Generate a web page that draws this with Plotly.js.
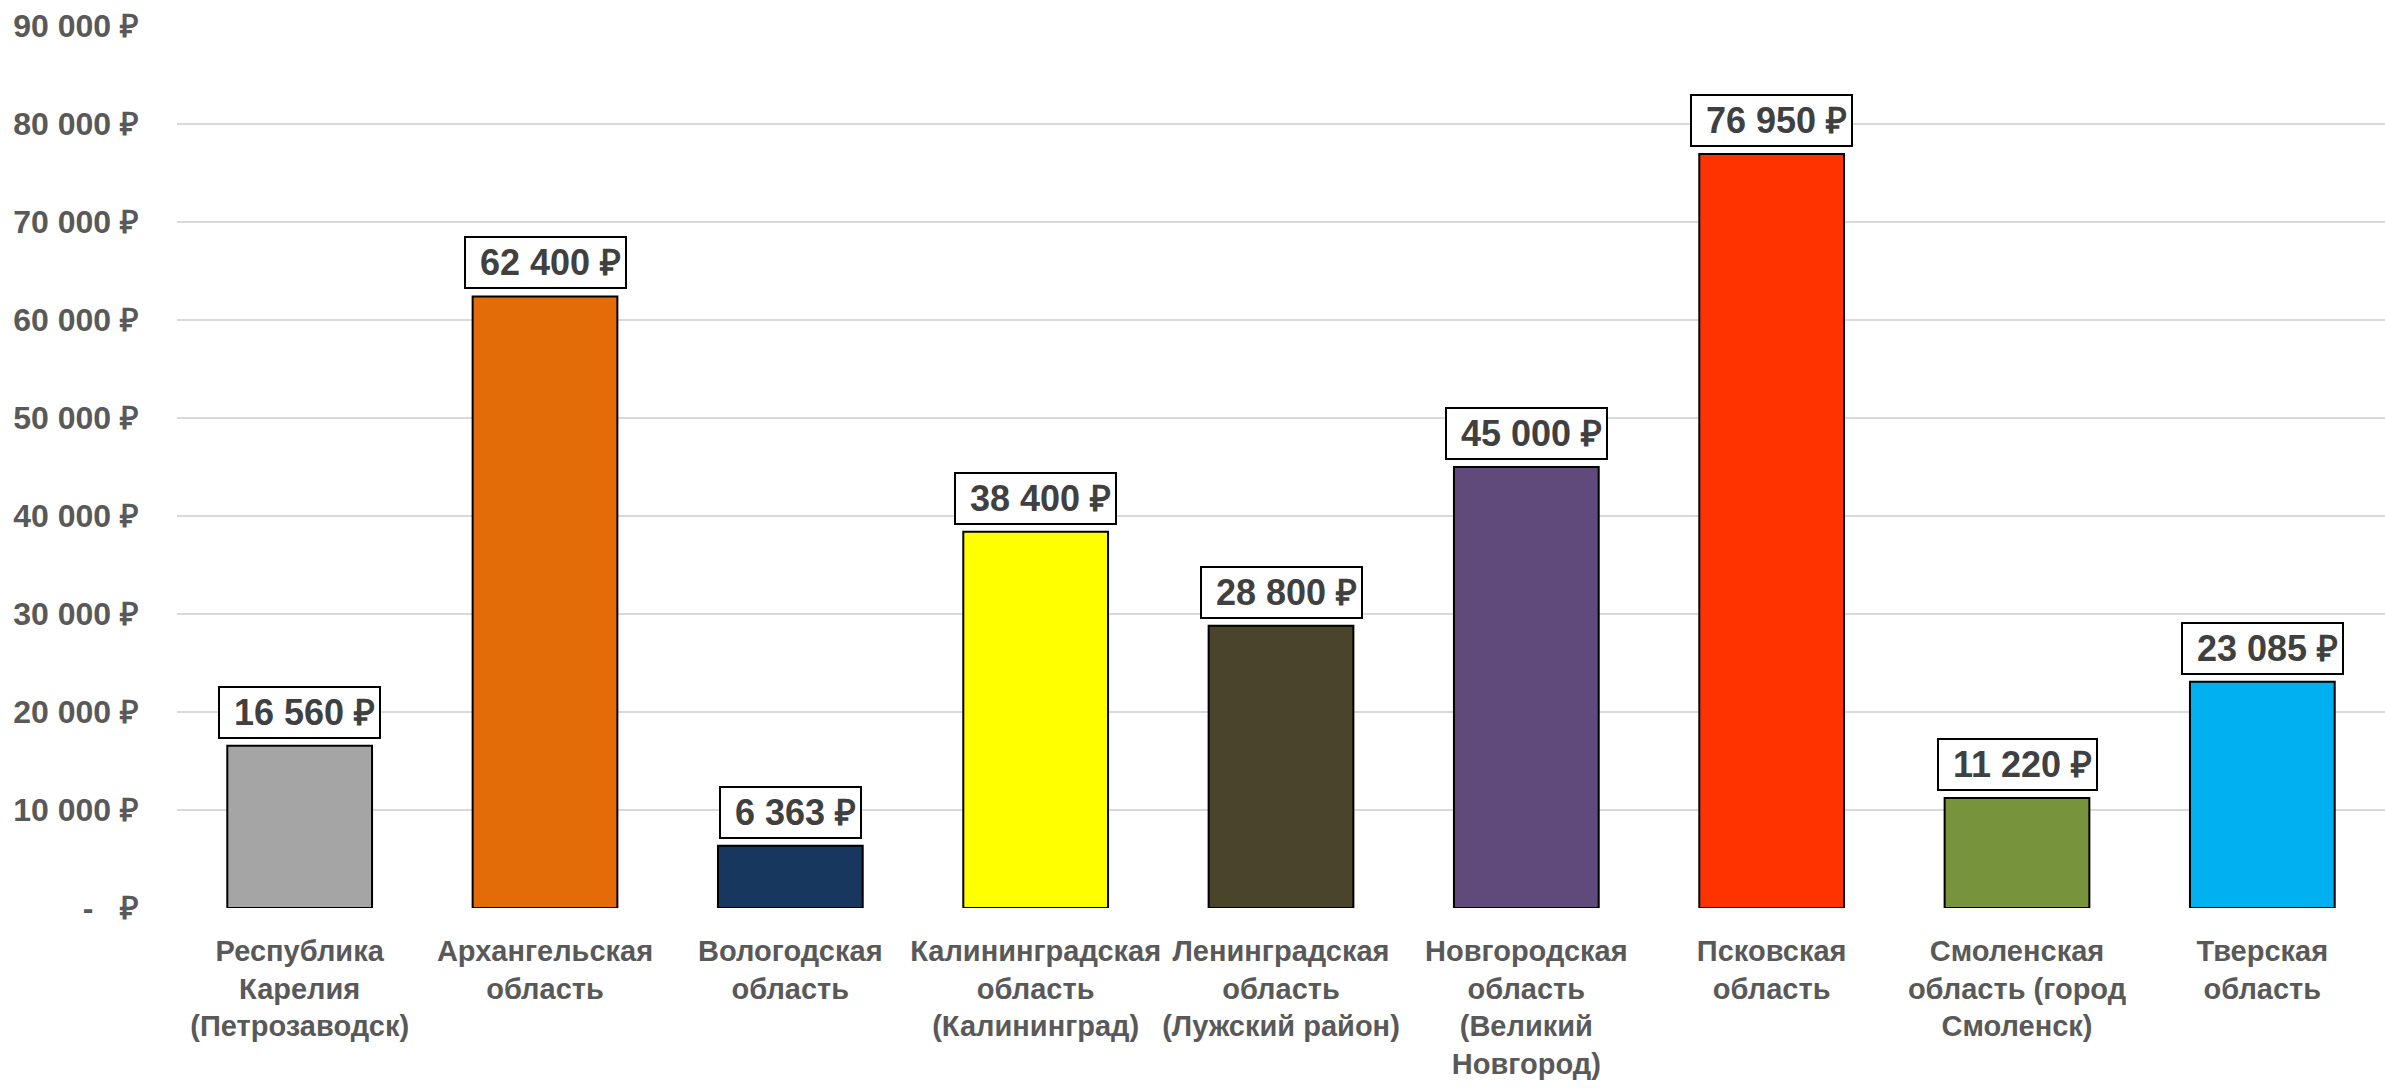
<!DOCTYPE html>
<html>
<head>
<meta charset="utf-8">
<script src="https://cdn.plot.ly/plotly-3.0.1.min.js"></script>
<style>html,body{margin:0;padding:0;background:#fff;}#chart{width:2385px;height:1088px;}</style>
</head>
<body>
<div id="chart"></div>
<script>
const categories = [
  "Республика<br>Карелия<br>(Петрозаводск)",
  "Архангельская<br>область",
  "Вологодская<br>область",
  "Калининградская<br>область<br>(Калининград)",
  "Ленинградская<br>область<br>(Лужский район)",
  "Новгородская<br>область<br>(Великий<br>Новгород)",
  "Псковская<br>область",
  "Смоленская<br>область (город<br>Смоленск)",
  "Тверская<br>область"
];
const values = [16560, 62400, 6363, 38400, 28800, 45000, 76950, 11220, 23085];
const barColors = ["#A5A5A5", "#E36C09", "#17375E", "#FFFF00", "#4A452A", "#604A7B", "#FF3300", "#77933C", "#00B0F0"];
const yTickVals = [0, 10000, 20000, 30000, 40000, 50000, 60000, 70000, 80000, 90000];
const yTickText = ["-\u00a0\u00a0\u00a0₽", "10 000 ₽", "20 000 ₽", "30 000 ₽", "40 000 ₽", "50 000 ₽", "60 000 ₽", "70 000 ₽", "80 000 ₽", "90 000 ₽"];

function fmt(v) {
  return String(v).replace(/\B(?=(\d{3})+(?!\d))/g, " ") + " ₽";
}

const trace = {
  type: "bar",
  x: categories,
  y: values,
  marker: { color: barColors, line: { color: "#000000", width: 2 } },
  hoverinfo: "none"
};

const annotations = categories.map((c, i) => ({
  x: c,
  y: values[i],
  xref: "x",
  yref: "y",
  text: "\u00a0" + fmt(values[i]),
  showarrow: false,
  yanchor: "bottom",
  yshift: 7,
  font: { family: "Liberation Sans, Arial, sans-serif", size: 36, color: "#404040", weight: "bold" },
  bgcolor: "#FFFFFF",
  bordercolor: "#000000",
  borderwidth: 2,
  borderpad: 4
}));

const layout = {
  width: 2385,
  height: 1088,
  margin: { l: 177, r: 0, t: 26, b: 180 },
  paper_bgcolor: "#FFFFFF",
  plot_bgcolor: "#FFFFFF",
  bargap: 0.41,
  showlegend: false,
  xaxis: {
    type: "category",
    showline: false,
    ticks: "",
    showgrid: false,
    ticklabelstandoff: 23,
    tickangle: 0,
    tickfont: { family: "Liberation Sans, Arial, sans-serif", size: 29, color: "#595959", weight: "bold" }
  },
  yaxis: {
    range: [0, 90000],
    tickvals: yTickVals,
    ticktext: yTickText,
    showgrid: true,
    gridcolor: "#D9D9D9",
    gridwidth: 2,
    zeroline: false,
    showline: false,
    ticks: "",
    ticklabelstandoff: 37,
    tickfont: { family: "Liberation Sans, Arial, sans-serif", size: 32, color: "#595959", weight: "bold" }
  },
  annotations: annotations
};

Plotly.newPlot("chart", [trace], layout, { displayModeBar: false, staticPlot: true });
</script>
</body>
</html>
